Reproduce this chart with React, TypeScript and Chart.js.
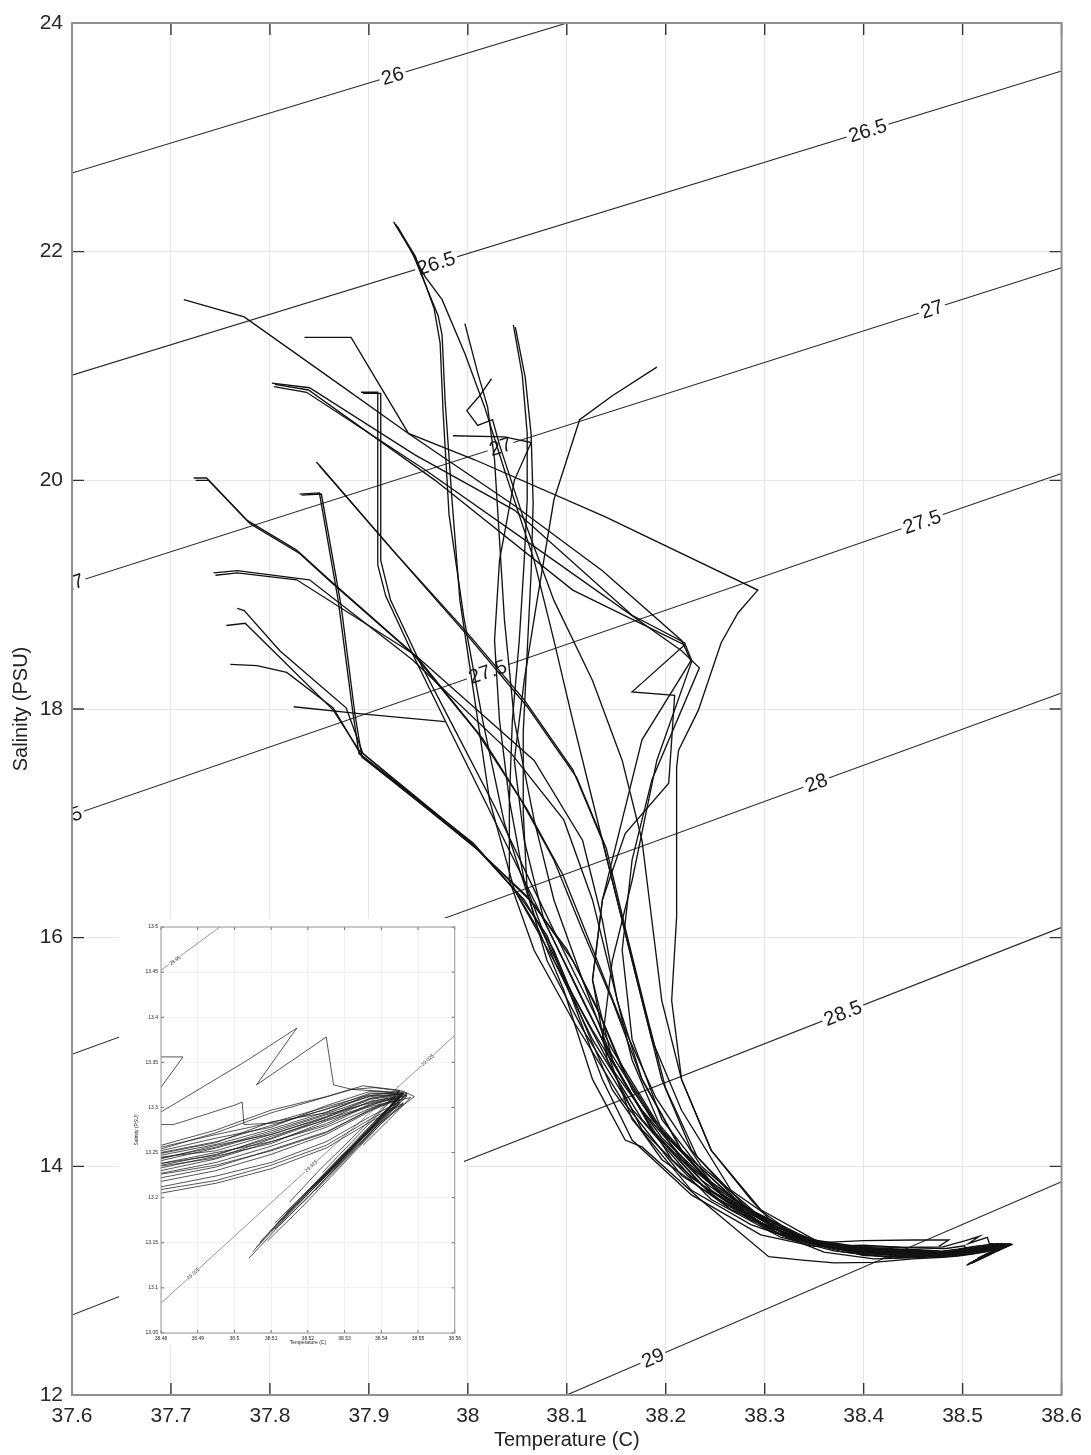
import React, { useEffect, useRef } from "react";
import { Chart, registerables } from "chart.js";

Chart.register(...registerables);

type Pt = [number, number];
type Lab = [number, number, string, number];

// ---------- axis ticks ----------
const tempTicks = [37.6, 37.7, 37.8, 37.9, 38.0, 38.1, 38.2, 38.3, 38.4, 38.5, 38.6];
const salTicks = [12, 14, 16, 18, 20, 22, 24];
const insetTempTicks = [38.48, 38.49, 38.5, 38.51, 38.52, 38.53, 38.54, 38.55, 38.56];
const insetSalTicks = [13.05, 13.1, 13.15, 13.2, 13.25, 13.3, 13.35, 13.4, 13.45, 13.5];

// ---------- isopycnals (main) ----------
const iso26: Pt[] = [[37.6, 22.688], [38.2, 24.262]];
const iso265: Pt[] = [[37.6, 20.92], [38.6, 23.58]];
const iso27: Pt[] = [[37.6, 19.10], [38.6, 21.86]];
const iso275: Pt[] = [[37.6, 17.07], [38.6, 20.06]];
const iso28: Pt[] = [[37.6, 14.98], [38.6, 18.14]];
const iso285: Pt[] = [[37.6, 12.70], [38.6, 16.09]];
const iso29: Pt[] = [[37.9, 11.254], [38.6, 13.866]];
const mainIsos = [iso26, iso265, iso27, iso275, iso28, iso285, iso29];

// label: T, S, text, isopycnal index
const mainLabels: Lab[] = [
  [37.924, 23.538, "26", 0],
  [37.968, 21.899, "26.5", 1],
  [38.404, 23.059, "26.5", 1],
  [37.6005, 19.101, "27", 2],
  [38.033, 20.295, "27", 2],
  [38.469, 21.498, "27", 2],
  [37.591, 17.043, "27.5", 3],
  [38.020, 18.326, "27.5", 3],
  [38.459, 19.638, "27.5", 3],
  [38.352, 17.356, "28", 4],
  [38.379, 15.341, "28.5", 5],
  [38.187, 12.325, "29", 6],
];

// ---------- isopycnals (inset) ----------
const insetIsoA: Pt[] = [[38.47, 13.422], [38.50, 13.512]];
const insetIsoB: Pt[] = [[38.47, 13.046], [38.57, 13.417]];
const insetIsos = [insetIsoA, insetIsoB];
const insetLabels: Lab[] = [
  [38.4838, 13.463, "28.95", 0],
  [38.4888, 13.116, "29.025", 1],
  [38.5209, 13.235, "29.025", 1],
  [38.5526, 13.3525, "29.025", 1],
];

// ---------- casts (Temperature, Salinity) ----------
const cast01: Pt[] = [[37.713,21.58],[37.774,21.43],[37.857,20.92],[37.940,20.41],[38.047,19.78],[38.136,19.21],[38.216,18.60],[38.226,18.41],[38.191,17.55],[38.166,16.50],[38.146,15.80],[38.136,15.11],[38.166,14.41],[38.226,13.79],[38.286,13.49],[38.330,13.36],[38.380,13.27],[38.430,13.25],[38.480,13.256],[38.495,13.270],[38.510,13.283],[38.522,13.297],[38.535,13.312],[38.545,13.318],[38.540,13.296],[38.532,13.262],[38.524,13.228]];
const cast02: Pt[] = [[37.835,21.25],[37.882,21.25],[37.940,20.41],[38.007,20.18],[38.139,19.68],[38.293,19.04],[38.273,18.84],[38.256,18.58],[38.233,17.99],[38.213,17.64],[38.211,17.49],[38.211,16.18],[38.206,15.45],[38.216,14.76],[38.246,14.14],[38.286,13.71],[38.316,13.43],[38.360,13.30],[38.410,13.24],[38.450,13.23],[38.480,13.249],[38.495,13.261],[38.510,13.284],[38.525,13.294],[38.537,13.315],[38.546,13.316],[38.538,13.284],[38.529,13.246],[38.519,13.204],[38.511,13.172]];
const cast03: Pt[] = [[37.802,20.85],[37.840,20.81],[37.947,20.22],[38.047,19.74],[38.166,18.82],[38.219,18.58],[38.226,18.43],[38.176,17.73],[38.156,17.03],[38.136,16.33],[38.126,15.63],[38.141,14.93],[38.176,14.32],[38.246,13.71],[38.316,13.38],[38.370,13.26],[38.420,13.21],[38.455,13.22],[38.480,13.233],[38.495,13.246],[38.510,13.260],[38.525,13.285],[38.537,13.301],[38.548,13.311],[38.542,13.286],[38.535,13.258]];
const cast04: Pt[] = [[37.804,20.82],[37.837,20.77],[37.957,20.09],[38.087,19.30],[38.216,18.51],[38.234,18.36],[38.186,17.38],[38.166,16.68],[38.156,15.89],[38.166,15.11],[38.196,14.41],[38.256,13.75],[38.326,13.37],[38.380,13.25],[38.430,13.20],[38.460,13.21],[38.480,13.218],[38.495,13.230],[38.510,13.248],[38.525,13.270],[38.537,13.296],[38.544,13.308],[38.537,13.275],[38.528,13.238],[38.519,13.200]];
const cast05: Pt[] = [[37.892,20.77],[37.909,20.77],[37.909,19.26],[37.917,18.99],[37.947,18.43],[37.977,17.90],[38.017,17.20],[38.057,16.50],[38.097,15.80],[38.136,15.11],[38.186,14.41],[38.246,13.84],[38.316,13.43],[38.360,13.31],[38.410,13.26],[38.450,13.24],[38.480,13.241],[38.495,13.255],[38.510,13.272],[38.525,13.292],[38.537,13.305],[38.547,13.313],[38.541,13.290],[38.533,13.255],[38.526,13.226]];
const cast06: Pt[] = [[37.925,22.26],[37.944,21.99],[37.970,21.44],[37.974,21.27],[37.977,20.70],[37.984,19.83],[37.992,18.95],[38.007,18.08],[38.022,17.20],[38.047,16.42],[38.087,15.80],[38.126,15.19],[38.176,14.49],[38.236,13.88],[38.306,13.44],[38.350,13.32],[38.400,13.24],[38.440,13.22],[38.480,13.227],[38.495,13.239],[38.510,13.257],[38.525,13.278],[38.537,13.299],[38.544,13.309],[38.538,13.281],[38.528,13.240],[38.518,13.198]];
const cast07: Pt[] = [[37.929,22.22],[37.957,21.78],[37.974,21.58],[37.997,21.11],[38.017,20.64],[38.037,20.09],[38.067,19.30],[38.087,18.60],[38.106,17.90],[38.126,17.20],[38.146,16.50],[38.166,15.80],[38.186,15.11],[38.216,14.49],[38.266,13.79],[38.326,13.43],[38.370,13.30],[38.420,13.25],[38.455,13.24],[38.480,13.238],[38.495,13.247],[38.510,13.268],[38.525,13.286],[38.537,13.307],[38.545,13.312],[38.537,13.277],[38.527,13.236],[38.516,13.190],[38.507,13.151]];
const cast08: Pt[] = [[37.997,21.37],[38.010,20.94],[38.020,20.64],[38.027,20.18],[38.032,19.48],[38.037,18.78],[38.047,17.90],[38.067,17.03],[38.087,16.33],[38.116,15.63],[38.146,14.93],[38.186,14.32],[38.246,13.75],[38.316,13.40],[38.360,13.25],[38.410,13.19],[38.450,13.20],[38.480,13.212],[38.495,13.224],[38.510,13.239],[38.525,13.262],[38.537,13.290],[38.545,13.306],[38.538,13.276],[38.529,13.239],[38.521,13.205],[38.512,13.168],[38.504,13.133]];
const cast09: Pt[] = [[38.046,21.36],[38.055,20.92],[38.060,20.41],[38.060,19.83],[38.057,19.30],[38.052,18.60],[38.045,17.90],[38.042,17.20],[38.042,16.50],[38.067,15.89],[38.106,15.28],[38.156,14.58],[38.216,13.92],[38.286,13.53],[38.330,13.38],[38.380,13.30],[38.430,13.27],[38.480,13.252],[38.495,13.266],[38.510,13.278],[38.525,13.302],[38.537,13.318],[38.546,13.317],[38.539,13.288],[38.531,13.253],[38.521,13.212],[38.514,13.183]];
const cast10: Pt[] = [[38.191,20.99],[38.146,20.74],[38.113,20.53],[38.087,19.83],[38.070,18.95],[38.057,18.25],[38.047,17.55],[38.057,16.85],[38.077,16.15],[38.116,15.45],[38.156,14.76],[38.206,14.06],[38.266,13.62],[38.336,13.36],[38.390,13.28],[38.440,13.26],[38.480,13.245],[38.495,13.252],[38.510,13.270],[38.525,13.289],[38.537,13.309],[38.546,13.314],[38.540,13.290],[38.531,13.250],[38.522,13.214],[38.513,13.178],[38.505,13.140]];
const cast11: Pt[] = [[37.830,19.88],[37.850,19.89],[37.869,18.95],[37.884,17.96],[37.890,17.61],[38.010,16.77],[38.067,16.29],[38.106,15.80],[38.136,15.28],[38.166,14.67],[38.216,14.06],[38.276,13.62],[38.346,13.33],[38.400,13.26],[38.450,13.25],[38.480,13.230],[38.495,13.243],[38.510,13.262],[38.525,13.280],[38.537,13.303],[38.545,13.311],[38.539,13.286],[38.530,13.246]];
const cast12: Pt[] = [[37.847,20.16],[37.924,19.39],[37.997,18.69],[38.057,18.08],[38.106,17.47],[38.136,16.85],[38.156,16.15],[38.176,15.45],[38.196,14.76],[38.226,14.14],[38.276,13.66],[38.346,13.36],[38.400,13.29],[38.450,13.27],[38.480,13.247],[38.495,13.259],[38.510,13.276],[38.525,13.295],[38.537,13.313],[38.547,13.315],[38.541,13.292],[38.533,13.259],[38.525,13.224],[38.517,13.192]];
const cast13: Pt[] = [[37.723,20.02],[37.736,20.02],[37.777,19.65],[37.827,19.39],[37.860,19.13],[37.944,18.49],[38.010,17.79],[38.054,17.20],[38.087,16.68],[38.116,16.06],[38.146,15.45],[38.176,14.76],[38.216,14.14],[38.276,13.66],[38.346,13.34],[38.400,13.22],[38.450,13.21],[38.480,13.209],[38.495,13.219],[38.510,13.236],[38.525,13.258],[38.537,13.287],[38.546,13.305],[38.539,13.280],[38.531,13.245],[38.522,13.208]];
const cast14: Pt[] = [[37.743,19.19],[37.767,19.21],[37.830,19.14],[37.840,19.13],[37.944,18.43],[38.044,17.61],[38.097,17.03],[38.126,16.33],[38.146,15.63],[38.166,14.93],[38.196,14.32],[38.256,13.75],[38.326,13.38],[38.370,13.28],[38.420,13.24],[38.455,13.25],[38.480,13.235],[38.495,13.244],[38.510,13.265],[38.525,13.287],[38.537,13.302],[38.545,13.313],[38.538,13.280],[38.529,13.243],[38.520,13.206],[38.510,13.163]];
const cast15: Pt[] = [[37.767,18.88],[37.774,18.86],[37.810,18.51],[37.877,18.01],[37.894,17.61],[38.010,16.77],[38.057,16.33],[38.087,15.89],[38.116,15.28],[38.146,14.67],[38.196,14.06],[38.266,13.62],[38.336,13.36],[38.390,13.30],[38.440,13.29],[38.480,13.281],[38.4834,13.281],[38.5004,13.303],[38.5021,13.306],[38.5026,13.281],[38.512,13.283],[38.524,13.297],[38.537,13.312],[38.546,13.315],[38.541,13.293],[38.533,13.260]];
const cast16: Pt[] = [[37.756,18.73],[37.775,18.75],[37.864,17.99],[37.890,17.64],[38.007,16.81],[38.052,16.37],[38.080,16.02],[38.106,15.45],[38.136,14.76],[38.166,14.23],[38.226,13.75],[38.296,13.40],[38.350,13.30],[38.400,13.31],[38.440,13.29],[38.480,13.295],[38.503,13.351],[38.517,13.388],[38.506,13.325],[38.525,13.378],[38.527,13.325],[38.532,13.320],[38.540,13.318],[38.547,13.313],[38.542,13.292],[38.536,13.268]];
const cast17: Pt[] = [[37.760,18.39],[37.787,18.38],[37.817,18.32],[37.864,18.01],[37.892,17.60],[38.005,16.83],[38.047,16.42],[38.072,16.06],[38.097,15.54],[38.126,14.76],[38.159,14.23],[38.176,14.17],[38.235,13.71],[38.304,13.21],[38.338,13.18],[38.370,13.155],[38.410,13.16],[38.450,13.19],[38.480,13.205],[38.495,13.216],[38.510,13.232],[38.525,13.255],[38.537,13.284],[38.546,13.304],[38.540,13.282],[38.533,13.252],[38.526,13.222],[38.518,13.188],[38.509,13.152]];
const cast18: Pt[] = [[37.824,18.02],[37.890,17.96],[37.977,17.89]];
const cast19: Pt[] = [[37.985,20.39],[38.037,20.38],[38.064,20.33],[38.047,20.00],[38.032,19.30],[38.027,18.60],[38.032,17.90],[38.042,17.20],[38.057,16.50],[38.087,15.80],[38.126,15.11],[38.176,14.41],[38.236,13.84],[38.306,13.43],[38.350,13.33],[38.400,13.35],[38.450,13.356],[38.486,13.356],[38.476,13.300]];
const cast20: Pt[] = [[38.024,20.89],[38.012,20.74],[37.999,20.61],[38.010,20.48],[38.025,20.53],[38.032,20.31],[38.057,19.65],[38.087,18.95],[38.126,18.25],[38.156,17.55],[38.176,16.85],[38.186,16.15],[38.196,15.45],[38.216,14.76],[38.246,14.14],[38.296,13.62],[38.356,13.33],[38.410,13.27],[38.450,13.26],[38.480,13.254],[38.495,13.272],[38.510,13.294],[38.522,13.308],[38.532,13.320],[38.538,13.322],[38.546,13.318],[38.549,13.312],[38.542,13.290],[38.534,13.258]];
const cast21: Pt[] = [[37.805,20.84],[37.839,20.79],[37.967,20.00],[38.106,19.04],[38.219,18.56],[38.166,18.15],[38.209,18.12],[38.206,17.73],[38.203,17.35],[38.159,16.91],[38.136,16.33],[38.126,15.63],[38.146,14.93],[38.186,14.32],[38.246,13.79],[38.316,13.40],[38.370,13.30],[38.420,13.27],[38.455,13.27],[38.480,13.258],[38.495,13.275],[38.510,13.297],[38.525,13.312],[38.535,13.324],[38.545,13.319],[38.540,13.298],[38.532,13.266],[38.523,13.230],[38.515,13.195]];
const cast22: Pt[] = [[37.745,19.17],[37.767,19.19],[37.827,19.13],[37.947,18.47],[38.067,17.55],[38.116,16.85],[38.136,16.15],[38.151,15.45],[38.176,14.76],[38.216,14.14],[38.276,13.66],[38.341,13.36],[38.390,13.27],[38.440,13.24],[38.480,13.222],[38.495,13.234],[38.510,13.253],[38.525,13.273],[38.537,13.297],[38.544,13.310],[38.538,13.279],[38.530,13.246],[38.522,13.212],[38.513,13.175]];
const cast23: Pt[] = [[37.927,22.24],[37.947,21.96],[37.966,21.50],[37.972,21.20],[37.975,20.60],[37.981,19.70],[37.996,18.80],[38.015,17.90],[38.037,17.00],[38.067,16.20],[38.106,15.50],[38.146,14.85],[38.196,14.25],[38.256,13.76],[38.316,13.45],[38.360,13.31],[38.410,13.25],[38.450,13.235],[38.480,13.243],[38.495,13.258],[38.510,13.270],[38.525,13.290],[38.537,13.310],[38.546,13.316],[38.539,13.285],[38.530,13.249],[38.521,13.211],[38.512,13.172]];
const cast24: Pt[] = [[37.832,19.87],[37.852,19.88],[37.872,18.90],[37.886,17.95],[37.893,17.58],[38.000,16.85],[38.060,16.36],[38.100,15.90],[38.130,15.40],[38.156,14.85],[38.196,14.30],[38.246,13.86],[38.306,13.50],[38.350,13.32],[38.400,13.235],[38.450,13.22],[38.480,13.226],[38.495,13.236],[38.510,13.252],[38.525,13.272],[38.537,13.298],[38.545,13.309],[38.539,13.283],[38.530,13.244],[38.520,13.200],[38.511,13.165]];
const cast25: Pt[] = [[37.725,20.00],[37.738,20.00],[37.780,19.62],[37.830,19.36],[37.863,19.10],[37.950,18.44],[38.015,17.74],[38.060,17.12],[38.096,16.55],[38.126,15.90],[38.156,15.25],[38.190,14.60],[38.236,14.00],[38.290,13.60],[38.350,13.33],[38.400,13.245],[38.450,13.23],[38.480,13.238],[38.495,13.250],[38.510,13.262],[38.525,13.282],[38.537,13.304],[38.546,13.312],[38.540,13.287],[38.532,13.255],[38.524,13.220]];
const cast26: Pt[] = [[38.048,21.34],[38.058,20.90],[38.064,20.40],[38.066,19.80],[38.064,19.20],[38.060,18.50],[38.056,17.80],[38.056,17.10],[38.060,16.40],[38.080,15.80],[38.116,15.20],[38.166,14.50],[38.226,13.90],[38.296,13.50],[38.340,13.36],[38.390,13.29],[38.440,13.26],[38.480,13.250],[38.495,13.262],[38.510,13.280],[38.525,13.298],[38.537,13.316],[38.547,13.316],[38.541,13.290],[38.534,13.262],[38.527,13.232]];
const cast27: Pt[] = [[37.894,20.76],[37.912,20.76],[37.912,19.30],[37.922,18.95],[37.952,18.40],[37.985,17.85],[38.027,17.15],[38.067,16.42],[38.106,15.72],[38.146,15.02],[38.190,14.40],[38.240,13.90],[38.300,13.52],[38.350,13.33],[38.400,13.26],[38.450,13.24],[38.480,13.236],[38.495,13.248],[38.510,13.266],[38.525,13.289],[38.537,13.306],[38.545,13.313],[38.539,13.284],[38.530,13.248],[38.521,13.208],[38.512,13.170],[38.506,13.145]];
const cast28: Pt[] = [[37.850,20.13],[37.928,19.35],[38.000,18.64],[38.060,18.02],[38.110,17.40],[38.140,16.78],[38.160,16.05],[38.180,15.35],[38.200,14.68],[38.232,14.08],[38.286,13.60],[38.350,13.33],[38.400,13.27],[38.450,13.26],[38.480,13.244],[38.495,13.256],[38.510,13.274],[38.525,13.293],[38.537,13.310],[38.546,13.315],[38.540,13.291],[38.532,13.257],[38.523,13.219]];

const casts: Pt[][] = [cast01, cast02, cast03, cast04, cast05, cast06, cast07, cast08, cast09, cast10, cast11, cast12, cast13, cast14, cast15, cast16, cast17, cast18, cast19, cast20, cast21, cast22, cast23, cast24, cast25, cast26, cast27, cast28];

const FONT = "'Liberation Sans', Arial, Helvetica, sans-serif";

interface Spec {
  isos: Pt[][];
  labels: Lab[];
  xTicks: number[];
  yTicks: number[];
  xMin: number; xMax: number; yMin: number; yMax: number;
  yAxisWidth: number; xAxisHeight: number;
  padTop: number; padRight: number;
  tickSize: number; xTickPad: number; yTickPad: number;
  castColor: string; castWidth: number;
  isoColor: string; isoWidth: number;
  gridColor: string;
  labelSize: number;
  tickLen: number; boxColor: string; boxWidth: number;
  titleSize: number; xTitleY: number; yTitleX: number;
  xTitle: string; yTitle: string;
}

function fmt(v: number) {
  return String(Number(Number(v).toFixed(2)));
}

function buildConfig(s: Spec): any {
  const nIso = s.isos.length;
  const datasets: any[] = [];
  s.isos.forEach((line) => {
    datasets.push({
      data: line.map((p) => ({ x: p[0], y: p[1] })),
      showLine: true, borderColor: s.isoColor, borderWidth: s.isoWidth,
      pointRadius: 0, pointHoverRadius: 0, tension: 0, fill: false, order: 1,
    });
  });
  casts.forEach((c) => {
    datasets.push({
      data: c.map((p) => ({ x: p[0], y: p[1] })),
      showLine: true, borderColor: s.castColor, borderWidth: s.castWidth,
      pointRadius: 0, pointHoverRadius: 0, tension: 0, fill: false, order: 0,
    });
  });

  const labelPlugin = {
    id: "clabels",
    afterDatasetDraw(chart: any, args: any) {
      const i = args.index;
      if (i >= nIso) return;
      const { ctx, chartArea: a } = chart;
      const xs = chart.scales.x, ys = chart.scales.y;
      const line = s.isos[i];
      const x0 = xs.getPixelForValue(line[0][0]), y0 = ys.getPixelForValue(line[0][1]);
      const x1 = xs.getPixelForValue(line[line.length - 1][0]), y1 = ys.getPixelForValue(line[line.length - 1][1]);
      const ang = Math.atan2(y1 - y0, x1 - x0);
      ctx.save();
      ctx.beginPath();
      ctx.rect(a.left, a.top, a.right - a.left, a.bottom - a.top);
      ctx.clip();
      ctx.font = `${s.labelSize}px ${FONT}`;
      ctx.textAlign = "center";
      ctx.textBaseline = "middle";
      for (const [t, sv, text, li] of s.labels) {
        if (li !== i) continue;
        const px = xs.getPixelForValue(t), py = ys.getPixelForValue(sv);
        const w = ctx.measureText(text).width;
        ctx.save();
        ctx.translate(px, py);
        ctx.rotate(ang);
        ctx.fillStyle = "#ffffff";
        const pad = s.labelSize * 0.12;
        const bh = s.labelSize * 0.55;
        ctx.fillRect(-w / 2 - pad, -bh / 2, w + 2 * pad, bh);
        ctx.fillStyle = "#1a1a1a";
        ctx.fillText(text, 0, s.labelSize * 0.05);
        ctx.restore();
      }
      ctx.restore();
    },
  };

  const framePlugin = {
    id: "frame",
    afterDraw(chart: any) {
      const { ctx, chartArea: a } = chart;
      const xs = chart.scales.x, ys = chart.scales.y;
      ctx.save();
      ctx.strokeStyle = "#333333";
      ctx.lineWidth = Math.max(0.6, s.boxWidth * 0.7);
      ctx.beginPath();
      for (const v of s.xTicks) {
        const px = xs.getPixelForValue(v);
        ctx.moveTo(px, a.bottom); ctx.lineTo(px, a.bottom - s.tickLen);
        ctx.moveTo(px, a.top); ctx.lineTo(px, a.top + s.tickLen);
      }
      for (const v of s.yTicks) {
        const py = ys.getPixelForValue(v);
        ctx.moveTo(a.left, py); ctx.lineTo(a.left + s.tickLen, py);
        ctx.moveTo(a.right, py); ctx.lineTo(a.right - s.tickLen, py);
      }
      ctx.stroke();
      ctx.strokeStyle = s.boxColor;
      ctx.lineWidth = s.boxWidth;
      ctx.strokeRect(a.left, a.top, a.right - a.left, a.bottom - a.top);
      ctx.fillStyle = "#222222";
      ctx.font = `${s.titleSize}px ${FONT}`;
      ctx.textAlign = "center";
      ctx.textBaseline = "middle";
      ctx.fillText(s.xTitle, (a.left + a.right) / 2, s.xTitleY);
      ctx.translate(s.yTitleX, (a.top + a.bottom) / 2);
      ctx.rotate(-Math.PI / 2);
      ctx.fillText(s.yTitle, 0, 0);
      ctx.restore();
    },
  };

  return {
    type: "scatter",
    data: { datasets },
    plugins: [labelPlugin, framePlugin],
    options: {
      animation: false,
      responsive: false,
      maintainAspectRatio: false,
      events: [],
      layout: { padding: { top: s.padTop, right: s.padRight, left: 0, bottom: 0 } },
      plugins: { legend: { display: false }, tooltip: { enabled: false }, title: { display: false } },
      scales: {
        x: {
          type: "linear", min: s.xMin, max: s.xMax,
          afterBuildTicks: (sc: any) => { sc.ticks = s.xTicks.map((v) => ({ value: v })); },
          afterFit: (sc: any) => { sc.height = s.xAxisHeight; },
          ticks: {
            autoSkip: false, maxRotation: 0, minRotation: 0, padding: s.xTickPad,
            color: "#262626", font: { size: s.tickSize, family: FONT },
            callback: (v: any) => fmt(v),
          },
          grid: { color: s.gridColor, lineWidth: 1, drawTicks: false },
          border: { display: false },
        },
        y: {
          type: "linear", min: s.yMin, max: s.yMax,
          afterBuildTicks: (sc: any) => { sc.ticks = s.yTicks.map((v) => ({ value: v })); },
          afterFit: (sc: any) => { sc.width = s.yAxisWidth; },
          ticks: {
            autoSkip: false, padding: s.yTickPad,
            color: "#262626", font: { size: s.tickSize, family: FONT },
            callback: (v: any) => fmt(v),
          },
          grid: { color: s.gridColor, lineWidth: 1, drawTicks: false },
          border: { display: false },
        },
      },
    },
  };
}

const mainSpec: Spec = {
  isos: mainIsos, labels: mainLabels, xTicks: tempTicks, yTicks: salTicks,
  xMin: 37.6, xMax: 38.6, yMin: 12, yMax: 24,
  yAxisWidth: 72, xAxisHeight: 60, padTop: 23, padRight: 23,
  tickSize: 21, xTickPad: 9, yTickPad: 9,
  castColor: "#121212", castWidth: 1.35, isoColor: "#2b2b2b", isoWidth: 1.1,
  gridColor: "#e6e6e6", labelSize: 20,
  tickLen: 12, boxColor: "#8f8f8f", boxWidth: 2,
  titleSize: 20, xTitleY: 1440, yTitleX: 21,
  xTitle: "Temperature (C)", yTitle: "Salinity (PSU)",
};

const insetSpec: Spec = {
  isos: insetIsos, labels: insetLabels, xTicks: insetTempTicks, yTicks: insetSalTicks,
  xMin: 38.48, xMax: 38.56, yMin: 13.05, yMax: 13.5,
  yAxisWidth: 42, xAxisHeight: 13, padTop: 9, padRight: 5,
  tickSize: 5, xTickPad: 3, yTickPad: 3,
  castColor: "#1e1e1e", castWidth: 0.75, isoColor: "#7a7a7a", isoWidth: 0.8,
  gridColor: "#f1f1f1", labelSize: 5,
  tickLen: 3, boxColor: "#9a9a9a", boxWidth: 1,
  titleSize: 5, xTitleY: 425, yTitleX: 18,
  xTitle: "Temperature (C)", yTitle: "Salinity (PSU)",
};

export default function App() {
  const mainRef = useRef<HTMLCanvasElement>(null);
  const insetRef = useRef<HTMLCanvasElement>(null);

  useEffect(() => {
    const charts: Chart[] = [];
    if (mainRef.current) charts.push(new Chart(mainRef.current, buildConfig(mainSpec)));
    if (insetRef.current) charts.push(new Chart(insetRef.current, buildConfig(insetSpec)));
    return () => charts.forEach((c) => c.destroy());
  }, []);

  return (
    <div style={{ position: "absolute", left: 0, top: 0, width: 1091, height: 1455, background: "#ffffff" }}>
      <canvas ref={mainRef} width={1091} height={1455}
        style={{ position: "absolute", left: 0, top: 0, width: 1091, height: 1455 }} />
      <div style={{ position: "absolute", left: 119, top: 918, width: 345, height: 428, background: "#ffffff" }}>
        <canvas ref={insetRef} width={345} height={428}
          style={{ position: "absolute", left: 0, top: 0, width: 345, height: 428 }} />
      </div>
    </div>
  );
}
